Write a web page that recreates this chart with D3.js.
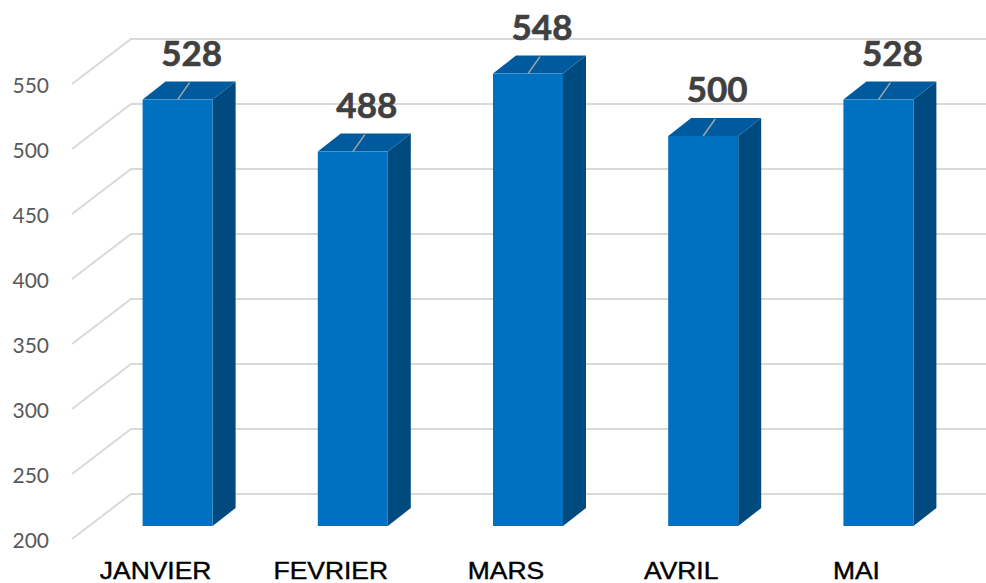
<!DOCTYPE html>
<html>
<head>
  <meta charset="utf-8">
  <script src="https://d3js.org/d3.v7.min.js"></script>
  <style>
    body { margin: 0; background: #fff; }
  </style>
</head>
<body>
<div id="chart"></div>
<script>
  var width = 986;
  var height = 583;

  // chart data
  var months = ["JANVIER", "FEVRIER", "MARS", "AVRIL", "MAI"];
  var values = [528, 488, 548, 500, 528];
  var yTicks = [200, 250, 300, 350, 400, 450, 500, 550];

  // back wall of the 3d box
  var y = d3.scaleLinear().domain([200, 550]).range([494, 39]);
  var x = d3.scaleBand().domain(months).range([90, 966]).paddingInner(0).paddingOuter(0);

  // depth offsets
  var floorDx = -59, floorDy = 45;   // front edge of floor vs back wall
  var barFrontDy = 32, barDx = 23, barDy = -18;
  var barW = 70;

  var svg = d3.select("#chart").append("svg")
      .attr("width", width)
      .attr("height", height);

  // gridlines: diagonal on the side wall + horizontal on the back wall
  var grid = svg.append("g").attr("stroke", "#d9d9d9").attr("stroke-width", 2).attr("fill", "none");
  yTicks.forEach(function(t) {
    grid.append("path")
      .attr("d", "M" + (131 + floorDx) + "," + (y(t) + floorDy) + "L131," + y(t) + "L" + width + "," + y(t));
  });

  // y tick labels
  svg.append("g").selectAll("text").data(yTicks).enter().append("text")
    .attr("x", 49)
    .attr("y", function(d) { return y(d) + floorDy + 9; })
    .attr("text-anchor", "end")
    .attr("font-family", "Lato, 'Open Sans', sans-serif")
    .attr("font-size", 21)
    .attr("fill", "#595959")
    .text(function(d) { return d; });

  // bars
  var bars = svg.append("g").selectAll("g").data(months).enter().append("g");

  function cx(d) { return x(d) + x.bandwidth() / 2; }
  function barTop(i) { return y(values[i]) + barFrontDy; }
  var barBottom = y(200) + barFrontDy;

  bars.each(function(d, i) {
    var g = d3.select(this);
    var x0 = cx(d) - barW / 2, x1 = cx(d) + barW / 2;
    var t = barTop(i);
    // side face
    g.append("path")
      .attr("d", "M" + x1 + "," + t + "L" + (x1 + barDx) + "," + (t + barDy) +
                 "L" + (x1 + barDx) + "," + (barBottom + barDy) + "L" + x1 + "," + barBottom + "Z")
      .attr("fill", "#004a80");
    // top face
    g.append("path")
      .attr("d", "M" + x0 + "," + t + "L" + (x0 + barDx) + "," + (t + barDy) +
                 "L" + (x1 + barDx) + "," + (t + barDy) + "L" + x1 + "," + t + "Z")
      .attr("fill", "#005a9e");
    // front face
    g.append("rect")
      .attr("x", x0).attr("y", t)
      .attr("width", barW).attr("height", barBottom - t)
      .attr("fill", "#0070c0");
    // leader line
    g.append("line")
      .attr("x1", cx(d)).attr("y1", t)
      .attr("x2", cx(d) + 12).attr("y2", t - 17)
      .attr("stroke", "#a6a6a6").attr("stroke-width", 1.5);
    // value label
    g.append("text")
      .attr("x", cx(d) + 14)
      .attr("y", t - 34)
      .attr("text-anchor", "middle")
      .attr("font-family", "Lato, 'Open Sans', sans-serif")
      .attr("font-weight", "bold")
      .attr("font-size", 35)
      .attr("fill", "#404040")
      .attr("stroke", "#404040")
      .attr("stroke-width", 0.6)
      .text(values[i]);
  });

  // category labels (stretched horizontally like the original)
  svg.append("g").selectAll("text").data(months).enter().append("text")
    .attr("transform", function(d) { return "translate(" + (cx(d) - 22) + ",579) scale(1.15,1)"; })
    .attr("text-anchor", "middle")
    .attr("font-family", "'Liberation Sans', Arial, sans-serif")
    .attr("font-size", 23)
    .attr("fill", "#000")
    .attr("stroke", "#000")
    .attr("stroke-width", 0.4)
    .text(function(d) { return d; });
</script>
</body>
</html>
